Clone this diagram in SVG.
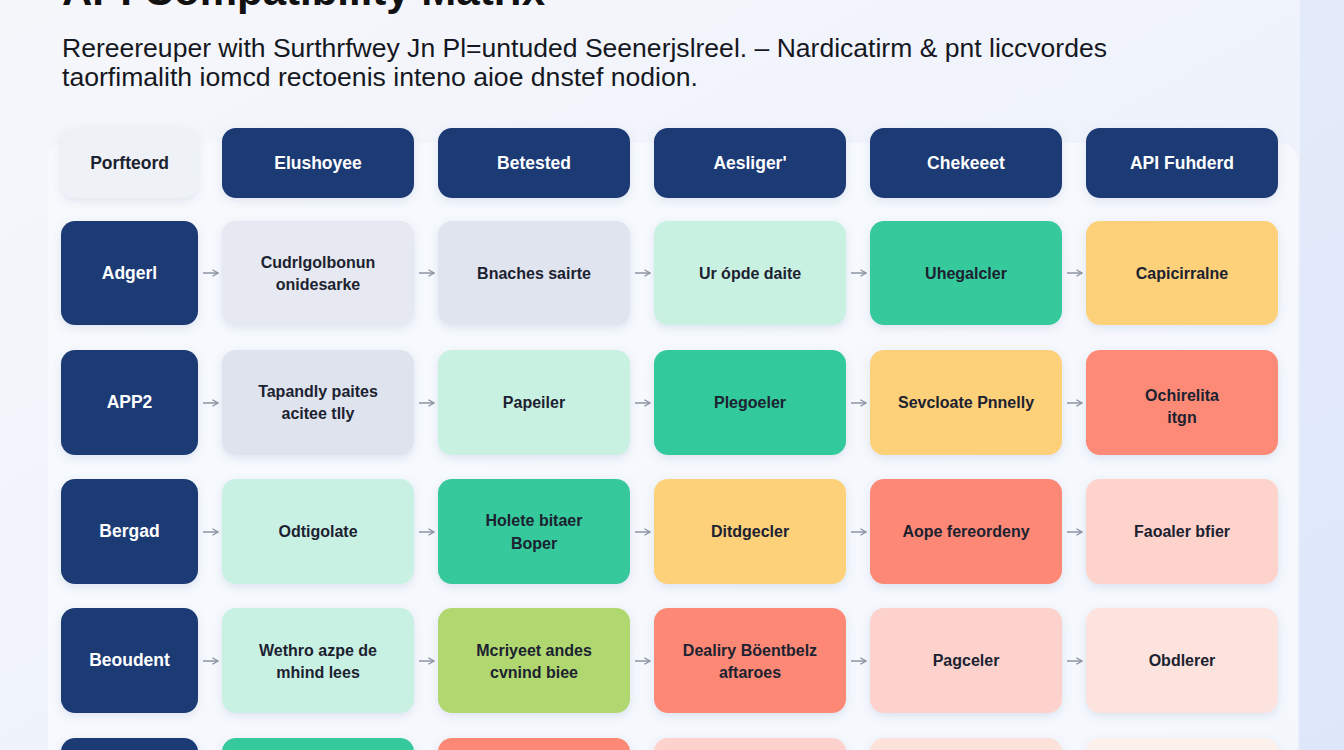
<svg xmlns="http://www.w3.org/2000/svg" width="1344" height="750" viewBox="0 0 1344 750">
<defs>
<linearGradient id="bg" x1="0" y1="0" x2="1" y2="1">
<stop offset="0" stop-color="#f6f7fb"/>
<stop offset="0.6" stop-color="#eef2fb"/>
<stop offset="1" stop-color="#e4ecfb"/>
</linearGradient>
<filter id="sh" x="-20%" y="-20%" width="140%" height="150%">
<feDropShadow dx="0" dy="3" stdDeviation="4" flood-color="#5a6fa8" flood-opacity="0.16"/>
</filter>
<marker id="ah" viewBox="0 0 10 10" refX="9" refY="5" markerWidth="8" markerHeight="8" orient="auto" markerUnits="userSpaceOnUse">
<path d="M2,1 L9,5 L2,9" fill="none" stroke="#8c94a3" stroke-width="1.6"/>
</marker>
</defs>
<style>
.box{filter:url(#sh)}
.navy{fill:#1a3b75}
.hdr{font-family:"Liberation Sans",Arial,sans-serif;font-weight:700;font-size:17.5px;fill:#ffffff;text-anchor:middle}
.lbl{font-family:"Liberation Sans",Arial,sans-serif;font-weight:700;font-size:17.5px;fill:#ffffff;text-anchor:middle}
.cell{font-family:"Liberation Sans",Arial,sans-serif;font-weight:700;font-size:16px;fill:#1c2230;text-anchor:middle}
.sub{font-family:"Liberation Sans",Arial,sans-serif;font-size:25px;fill:#15181f}
.title{font-family:"Liberation Sans",Arial,sans-serif;font-weight:700;font-size:42px;fill:#111111}
.conn{stroke:#8c94a3;stroke-width:1.5;fill:none;marker-end:url(#ah)}
</style>
<rect width="1344" height="750" fill="url(#bg)"/>
<rect x="1300" y="0" width="44" height="750" fill="#dbe5fa" opacity="0.6"/>
<rect x="48" y="143" width="1250" height="640" rx="18" fill="#f7f9fd" opacity="0.85"/>
<text class="title" x="62" y="5">API Compatibility Matrix</text>
<text class="sub" x="62" y="57" textLength="1045" lengthAdjust="spacingAndGlyphs">Rereereuper with Surthrfwey Jn Pl=untuded Seenerjslreel. – Nardicatirm &amp; pnt liccvordes</text>
<text class="sub" x="62" y="86" textLength="636" lengthAdjust="spacingAndGlyphs">taorfimalith iomcd rectoenis inteno aioe dnstef nodion.</text>

<g id="header">
<g id="h0"><rect class="box" x="61" y="128" width="137" height="70" rx="14" fill="#eef1f5"/><text class="hdr" x="129.5" y="169" style="fill:#1c2230">Porfteord</text></g>
<g id="h1"><rect class="box navy" x="222" y="128" width="192" height="70" rx="14"/><text class="hdr" x="318" y="169">Elushoyee</text></g>
<g id="h2"><rect class="box navy" x="438" y="128" width="192" height="70" rx="14"/><text class="hdr" x="534" y="169">Betested</text></g>
<g id="h3"><rect class="box navy" x="654" y="128" width="192" height="70" rx="14"/><text class="hdr" x="750" y="169">Aesliger'</text></g>
<g id="h4"><rect class="box navy" x="870" y="128" width="192" height="70" rx="14"/><text class="hdr" x="966" y="169">Chekeeet</text></g>
<g id="h5"><rect class="box navy" x="1086" y="128" width="192" height="70" rx="14"/><text class="hdr" x="1182" y="169">API Fuhderd</text></g>
</g>

<g id="row1">
<g id="r1l"><rect class="box navy" x="61" y="221" width="137" height="104" rx="14"/><text class="lbl" x="129.5" y="279">Adgerl</text></g>
<g id="r1c1"><rect class="box" x="222" y="221" width="192" height="104" rx="14" fill="#e6e9f1"/><text class="cell" x="318" y="268">Cudrlgolbonun</text><text class="cell" x="318" y="290">onidesarke</text></g>
<g id="r1c2"><rect class="box" x="438" y="221" width="192" height="104" rx="14" fill="#dfe4ef"/><text class="cell" x="534" y="279">Bnaches sairte</text></g>
<g id="r1c3"><rect class="box" x="654" y="221" width="192" height="104" rx="14" fill="#c9f1e2"/><text class="cell" x="750" y="279">Ur ópde daite</text></g>
<g id="r1c4"><rect class="box" x="870" y="221" width="192" height="104" rx="14" fill="#34c99c"/><text class="cell" x="966" y="279">Uhegalcler</text></g>
<g id="r1c5"><rect class="box" x="1086" y="221" width="192" height="104" rx="14" fill="#fdd17a"/><text class="cell" x="1182" y="279">Capicirralne</text></g>
</g>

<g id="row2">
<g id="r2l"><rect class="box navy" x="61" y="350" width="137" height="105" rx="14"/><text class="lbl" x="129.5" y="408">APP2</text></g>
<g id="r2c1"><rect class="box" x="222" y="350" width="192" height="105" rx="14" fill="#dfe3ee"/><text class="cell" x="318" y="397">Tapandly paites</text><text class="cell" x="318" y="419">acitee tlly</text></g>
<g id="r2c2"><rect class="box" x="438" y="350" width="192" height="105" rx="14" fill="#c9f1e2"/><text class="cell" x="534" y="408">Papeiler</text></g>
<g id="r2c3"><rect class="box" x="654" y="350" width="192" height="105" rx="14" fill="#33c99c"/><text class="cell" x="750" y="408">Plegoeler</text></g>
<g id="r2c4"><rect class="box" x="870" y="350" width="192" height="105" rx="14" fill="#fdd07a"/><text class="cell" x="966" y="408">Sevcloate Pnnelly</text></g>
<g id="r2c5"><rect class="box" x="1086" y="350" width="192" height="105" rx="14" fill="#fd8a76"/><text class="cell" x="1182" y="401">Ochirelita</text><text class="cell" x="1182" y="423">itgn</text></g>
</g>

<g id="row3">
<g id="r3l"><rect class="box navy" x="61" y="479" width="137" height="105" rx="14"/><text class="lbl" x="129.5" y="537">Bergad</text></g>
<g id="r3c1"><rect class="box" x="222" y="479" width="192" height="105" rx="14" fill="#c9f1e3"/><text class="cell" x="318" y="537">Odtigolate</text></g>
<g id="r3c2"><rect class="box" x="438" y="479" width="192" height="105" rx="14" fill="#34c99c"/><text class="cell" x="534" y="526">Holete bitaer</text><text class="cell" x="534" y="549">Boper</text></g>
<g id="r3c3"><rect class="box" x="654" y="479" width="192" height="105" rx="14" fill="#fdd17a"/><text class="cell" x="750" y="537">Ditdgecler</text></g>
<g id="r3c4"><rect class="box" x="870" y="479" width="192" height="105" rx="14" fill="#fd8874"/><text class="cell" x="966" y="537">Aope fereordeny</text></g>
<g id="r3c5"><rect class="box" x="1086" y="479" width="192" height="105" rx="14" fill="#fdd3cc"/><text class="cell" x="1182" y="537">Faoaler bfier</text></g>
</g>

<g id="row4">
<g id="r4l"><rect class="box navy" x="61" y="608" width="137" height="105" rx="14"/><text class="lbl" x="129.5" y="666">Beoudent</text></g>
<g id="r4c1"><rect class="box" x="222" y="608" width="192" height="105" rx="14" fill="#c9f1e3"/><text class="cell" x="318" y="656">Wethro azpe de</text><text class="cell" x="318" y="678">mhind lees</text></g>
<g id="r4c2"><rect class="box" x="438" y="608" width="192" height="105" rx="14" fill="#b1d86f"/><text class="cell" x="534" y="656">Mcriyeet andes</text><text class="cell" x="534" y="678">cvnind biee</text></g>
<g id="r4c3"><rect class="box" x="654" y="608" width="192" height="105" rx="14" fill="#fd8874"/><text class="cell" x="750" y="656">Dealiry Böentbelz</text><text class="cell" x="750" y="678">aftaroes</text></g>
<g id="r4c4"><rect class="box" x="870" y="608" width="192" height="105" rx="14" fill="#fdd2cc"/><text class="cell" x="966" y="666">Pagceler</text></g>
<g id="r4c5"><rect class="box" x="1086" y="608" width="192" height="105" rx="14" fill="#fde3dd"/><text class="cell" x="1182" y="666">Obdlerer</text></g>
</g>

<g id="row5">
<g id="r5l"><rect class="box navy" x="61" y="738" width="137" height="105" rx="14"/></g>
<g id="r5c1"><rect class="box" x="222" y="738" width="192" height="105" rx="14" fill="#34c99c"/></g>
<g id="r5c2"><rect class="box" x="438" y="738" width="192" height="105" rx="14" fill="#fd8874"/></g>
<g id="r5c3"><rect class="box" x="654" y="738" width="192" height="105" rx="14" fill="#fdd2cc"/></g>
<g id="r5c4"><rect class="box" x="870" y="738" width="192" height="105" rx="14" fill="#fde1db"/></g>
<g id="r5c5"><rect class="box" x="1086" y="738" width="192" height="105" rx="14" fill="#fdf1eb"/></g>
</g>

<g id="connectors">
<path class="conn" d="M203,273 H218"/><path class="conn" d="M419,273 H434"/><path class="conn" d="M635,273 H650"/><path class="conn" d="M851,273 H866"/><path class="conn" d="M1067,273 H1082"/>
<path class="conn" d="M203,403 H218"/><path class="conn" d="M419,403 H434"/><path class="conn" d="M635,403 H650"/><path class="conn" d="M851,403 H866"/><path class="conn" d="M1067,403 H1082"/>
<path class="conn" d="M203,532 H218"/><path class="conn" d="M419,532 H434"/><path class="conn" d="M635,532 H650"/><path class="conn" d="M851,532 H866"/><path class="conn" d="M1067,532 H1082"/>
<path class="conn" d="M203,661 H218"/><path class="conn" d="M419,661 H434"/><path class="conn" d="M635,661 H650"/><path class="conn" d="M851,661 H866"/><path class="conn" d="M1067,661 H1082"/>
</g>
</svg>
